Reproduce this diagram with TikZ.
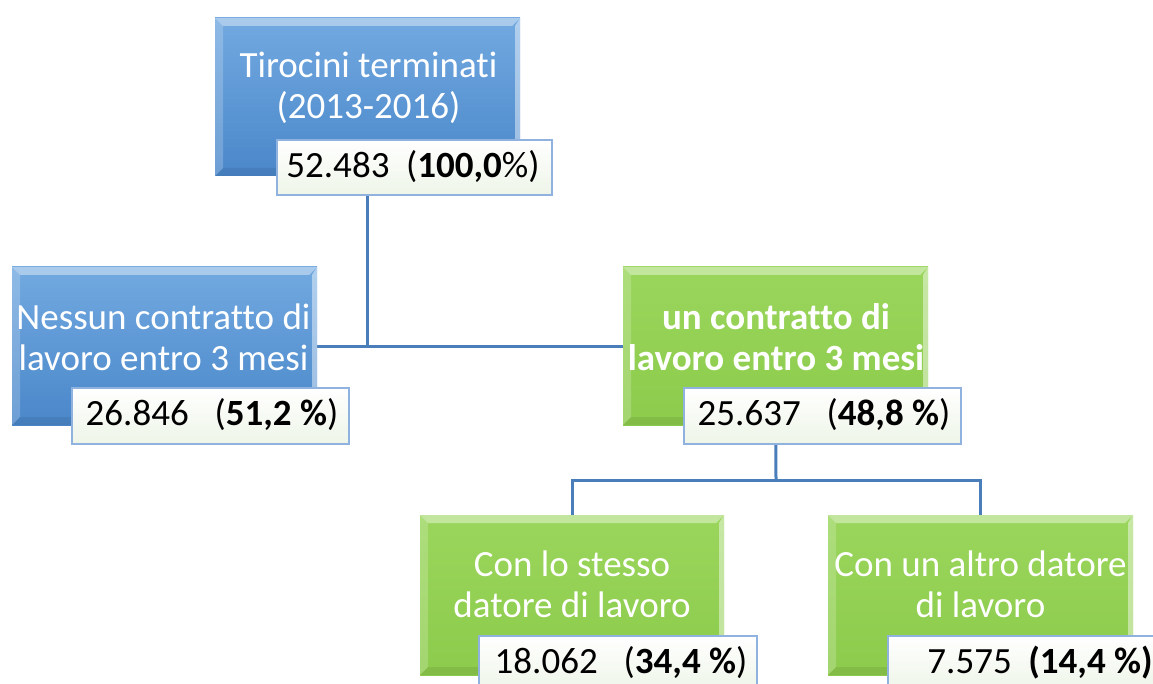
\documentclass[tikz,border=0pt]{standalone}
\usepackage{fontspec}
\setmainfont{Carlito}[Ligatures=NoCommon]
\usetikzlibrary{backgrounds}
\definecolor{blueTop}{HTML}{72A9E0}
\definecolor{blueBot}{HTML}{4A87CA}
\definecolor{greenTop}{HTML}{9AD65C}
\definecolor{greenBot}{HTML}{8CCB4C}
\definecolor{lblBorder}{HTML}{8FB2DE}
\definecolor{lblBot}{HTML}{EEF5E8}
\definecolor{connCol}{HTML}{4A7EBB}
\newcommand\bevelpic{%
  \fill[white,opacity=.40] (path picture bounding box.north west) -- (path picture bounding box.north east)
     -- ([shift={(-8pt,-8pt)}]path picture bounding box.north east) -- ([shift={(8pt,-8pt)}]path picture bounding box.north west) -- cycle;
  \fill[white,opacity=.20] (path picture bounding box.north west) -- ([shift={(8pt,-8pt)}]path picture bounding box.north west)
     -- ([shift={(8pt,8pt)}]path picture bounding box.south west) -- (path picture bounding box.south west) -- cycle;
  \fill[white,opacity=.45] (path picture bounding box.north east) -- ([shift={(-5pt,-8pt)}]path picture bounding box.north east)
     -- ([shift={(-5pt,8pt)}]path picture bounding box.south east) -- (path picture bounding box.south east) -- cycle;
  \fill[black,opacity=.07] (path picture bounding box.south west) -- ([shift={(8pt,8pt)}]path picture bounding box.south west)
     -- ([shift={(-5pt,8pt)}]path picture bounding box.south east) -- (path picture bounding box.south east) -- cycle;
}
\tikzset{
  boxbase/.style={rectangle, inner sep=0pt, path picture={\bevelpic}},
  bluebox/.style={boxbase, top color=blueTop, bottom color=blueBot, minimum width=305pt, minimum height=158pt},
  greenbox/.style={boxbase, top color=greenTop, bottom color=greenBot, minimum width=305pt, minimum height=158pt},
  lblbox/.style={rectangle, inner sep=0pt, draw=lblBorder, line width=2.2pt, top color=white, bottom color=lblBot,
                 minimum width=277pt, minimum height=56pt},
  boxtext/.style={font=\fontsize{37}{41}\selectfont, text=white, align=center, inner sep=0pt},
  lbltext/.style={font=\fontsize{37}{41}\selectfont, text=black, inner sep=0pt},
  conn/.style={draw=connCol, line width=3pt}
}
\begin{document}
\begin{tikzpicture}[x=1pt,y=-1pt]
\useasboundingbox (0,0) rectangle (1153,684);
\clip (0,0) rectangle (1153,684);
% boxes
\node[bluebox] (top) at (367.5,97) {};
\node[bluebox] (nessun) at (164.5,346) {};
\node[greenbox] (un) at (775.5,346) {};
\node[greenbox, minimum height=160pt, minimum width=304pt] (stesso) at (572,595) {};
\node[greenbox, minimum height=160pt] (altro) at (980.5,595) {};
% box texts
\node[boxtext] (ttop) at (368.5,88) {Tirocini terminati\\(2013-2016)};
\node[boxtext] (tnessun) at (163.5,337.5) {Nessun contratto di\\lavoro entro 3 mesi};
\node[boxtext, font=\fontsize{37}{41}\selectfont\bfseries] (tun) at (776,337.5) {un contratto di\\lavoro entro 3 mesi};
\node[boxtext] (tstesso) at (572,584) {Con lo stesso\\datore di lavoro};
\node[boxtext] (taltro) at (980.5,584) {Con un altro datore\\di lavoro};
% label boxes
\node[lblbox, minimum width=275pt, minimum height=55pt] (l1) at (414.5,167.5) {};
\node[lblbox] (l2) at (210.5,416) {};
\node[lblbox] (l3) at (822.5,416) {};
\node[lblbox, minimum width=278pt] (l4) at (618,664) {};
\node[lblbox, minimum width=278pt] (l5) at (1027,664) {};
% label texts
\node[lbltext] (n1) at (413,167) {52.483\hspace{0.45em}(\textbf{100,0}\%)};
\node[lbltext] (n2) at (212,415) {26.846\hspace{0.7em}(\textbf{51,2 \%})};
\node[lbltext] (n3) at (824,415) {25.637\hspace{0.7em}(\textbf{48,8 \%})};
\node[lbltext] (n4) at (621,663) {18.062\hspace{0.7em}(\textbf{34,4 \%})};
\node[lbltext] (n5) at (1040,663) {7.575\hspace{0.45em}\textbf{(14,4 \%)}};
% connectors
\begin{pgfonlayer}{background}
\coordinate (j1) at (367.5,346);
\coordinate (j2) at (776,480);
\draw[conn] (top.center) -- (top.center |- j1);
\draw[conn] (nessun.east) -- (un.west);
\draw[conn] (un.center) -- (j2);
\draw[conn] (stesso.center) -- (stesso.center |- j2) -- (altro.center |- j2) -- (altro.center);
\end{pgfonlayer}
\end{tikzpicture}
\end{document}
